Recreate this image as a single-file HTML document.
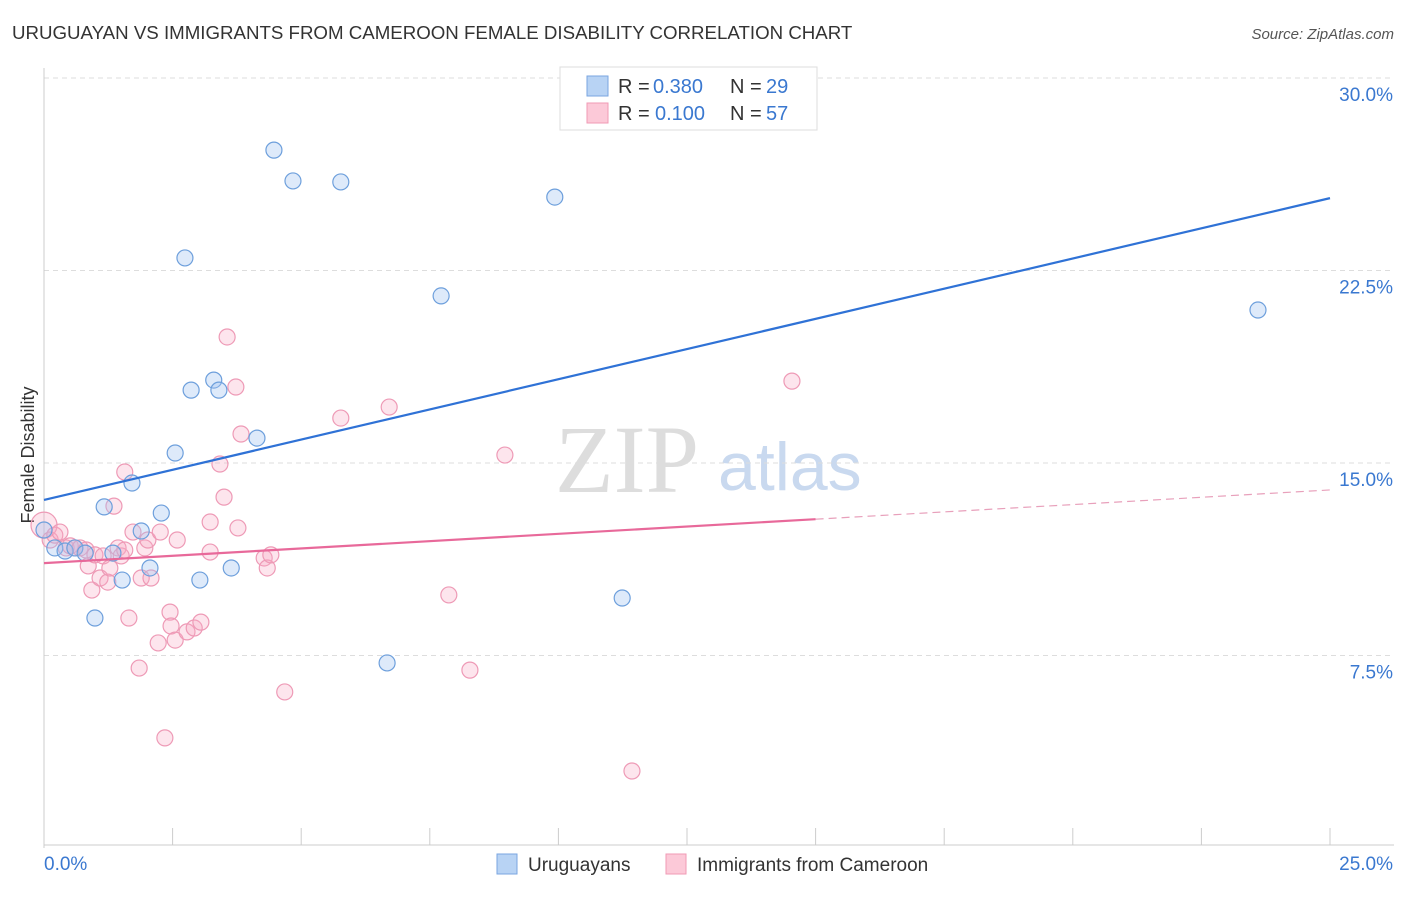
<!DOCTYPE html>
<html><head><meta charset="utf-8"><style>
body{margin:0;background:#fff;font-family:"Liberation Sans",sans-serif;}
#wrap{position:relative;width:1406px;height:892px;}
</style></head><body>
<div id="wrap">
<svg id="svg" width="1406" height="892">
<text x="12" y="39" font-size="18.7" fill="#333">URUGUAYAN VS IMMIGRANTS FROM CAMEROON FEMALE DISABILITY CORRELATION CHART</text>
<text x="1394" y="39" font-size="15" fill="#555" font-style="italic" text-anchor="end">Source: ZipAtlas.com</text>
<text x="34" y="455" font-size="18" fill="#333" transform="rotate(-90 34 455)" text-anchor="middle">Female Disability</text>
<text x="555" y="492" font-size="96" fill="#ddd" font-family="Liberation Serif">ZIP</text>
<text x="718" y="490" font-size="68" fill="#c9d9ef">atlas</text>
<g id="grid"></g><g id="axes"></g><g id="pts"></g><g id="lines"></g>
<g>
<rect x="560" y="67" width="257" height="63" fill="#fff" stroke="#ddd"/>
<rect x="587" y="76" width="21" height="20" fill="#b8d3f4" stroke="#7aa6e0"/>
<rect x="587" y="103" width="21" height="20" fill="#fcc9d8" stroke="#f09ab5"/>
<text x="618" y="93" font-size="20" fill="#333">R =</text>
<text x="653" y="93" font-size="20" fill="#3a78d0">0.380</text>
<text x="730" y="93" font-size="20" fill="#333">N =</text>
<text x="766" y="93" font-size="20" fill="#3a78d0">29</text>
<text x="618" y="120" font-size="20" fill="#333">R =</text>
<text x="655" y="120" font-size="20" fill="#3a78d0">0.100</text>
<text x="730" y="120" font-size="20" fill="#333">N =</text>
<text x="766" y="120" font-size="20" fill="#3a78d0">57</text>
</g>
<g>
<rect x="497" y="854" width="20" height="20" fill="#b8d3f4" stroke="#7aa6e0"/>
<text x="528" y="871" font-size="19" fill="#333">Uruguayans</text>
<rect x="666" y="854" width="20" height="20" fill="#fcc9d8" stroke="#f09ab5"/>
<text x="697" y="871" font-size="19" fill="#333">Immigrants from Cameroon</text>
</g>
</svg>
</div>
<script>
const yTicks=[7.5,15,22.5,30];
const yTickLabels=["7.5%","15.0%","22.5%","30.0%"];
const xTickLabels=["0.0%","25.0%"];
const blueX=[0,0.21,0.41,0.60,0.80,0.99,1.17,1.34,1.52,1.71,1.89,2.06,2.28,2.55,2.74,2.86,3.03,3.30,3.40,3.64,4.14,4.47,4.84,5.77,6.67,7.72,9.93,11.24,23.60];
const blueY=[12.39,11.69,11.57,11.69,11.49,8.96,13.29,11.49,10.44,14.22,12.35,10.91,13.05,15.39,22.99,17.84,10.44,18.23,17.84,10.91,15.97,27.19,25.99,25.95,7.21,21.51,25.36,9.74,20.96];
const pinkX=[0,0.12,0.21,0.31,0.43,0.51,0.60,0.70,0.82,0.86,0.93,0.99,1.09,1.15,1.24,1.28,1.36,1.44,1.50,1.57,1.57,1.65,1.73,1.85,1.89,1.96,2.02,2.08,2.22,2.26,2.35,2.45,2.47,2.55,2.59,2.78,2.92,3.05,3.23,3.23,3.42,3.50,3.56,3.73,3.77,3.83,4.28,4.34,4.41,4.68,5.77,6.71,7.87,8.28,8.96,11.43,14.54];
const pinkY=[12.58,12.0,12.19,12.31,11.69,11.77,11.69,11.69,11.61,10.99,10.05,11.42,10.52,11.38,10.36,10.91,13.32,11.69,11.38,14.65,11.61,8.96,12.31,7.01,10.52,11.69,12.0,10.52,7.99,12.31,4.29,9.19,8.65,8.10,12.0,8.42,8.57,8.80,11.53,12.70,14.96,13.67,19.91,17.96,12.47,16.13,11.30,10.91,11.42,6.08,16.75,17.18,9.86,6.93,15.31,3.0,18.19];
const blueLine=[13.56,25.32];
const pinkLine=[11.10,13.95];
const pinkSolidEnd=15;
const NS="http://www.w3.org/2000/svg";
const X=v=>44+v/25*1286, Y=v=>848-v*770/30;
function mk(t,a,p){const e=document.createElementNS(NS,t);for(const k in a)e.setAttribute(k,a[k]);p.appendChild(e);return e;}
const g=document.getElementById('grid'),ax=document.getElementById('axes'),pts=document.getElementById('pts'),ln=document.getElementById('lines');
yTicks.forEach((t,i)=>{
 const l=mk('line',{x1:44,x2:1394,y1:Y(t),y2:Y(t),stroke:'#ddd','stroke-dasharray':'5,4'},g);
 
 
 const tx=mk('text',{x:1393,y:Y(t)+23,'font-size':19,fill:'#3a78d0','text-anchor':'end'},ax);
 tx.textContent=yTickLabels[i];
 
 
});
mk('line',{x1:44,x2:44,y1:68,y2:848,stroke:'#ccc'},ax);
mk('line',{x1:44,x2:1394,y1:845,y2:845,stroke:'#ccc'},ax);
for(let i=0;i<=10;i++){mk('line',{x1:X(i*2.5),x2:X(i*2.5),y1:828,y2:845,stroke:'#ccc'},ax);}
const xl0=mk('text',{x:44,y:870,'font-size':19,fill:'#3a78d0'},ax);xl0.textContent=xTickLabels[0];


const xl1=mk('text',{x:1393,y:870,'font-size':19,fill:'#3a78d0','text-anchor':'end'},ax);xl1.textContent=xTickLabels[1];


pinkX.forEach((x,i)=>{const c=mk('circle',{cx:X(x),cy:Y(pinkY[i]),r:i==0?13:8,fill:'rgba(248,170,195,0.3)',stroke:'#ee9ab6','stroke-width':1.2},pts);
 
 });
blueX.forEach((x,i)=>{const c=mk('circle',{cx:X(x),cy:Y(blueY[i]),r:8,fill:'rgba(160,195,240,0.35)',stroke:'#6d9fdc','stroke-width':1.2},pts);
 
 });
const bl=mk('line',{x1:X(0),y1:Y(blueLine[0]),x2:X(25),y2:Y(blueLine[1]),stroke:'#2f72d6','stroke-width':2.2},ln);


const pm=pinkLine[0]+(pinkLine[1]-pinkLine[0])*pinkSolidEnd/25;
const pl=mk('line',{x1:X(0),y1:Y(pinkLine[0]),x2:X(pinkSolidEnd),y2:Y(pm),stroke:'#e8699a','stroke-width':2.2},ln);


const pd=mk('line',{x1:X(pinkSolidEnd),y1:Y(pm),x2:X(25),y2:Y(pinkLine[1]),stroke:'#e8a0bb','stroke-width':1.2,'stroke-dasharray':'8,5'},ln);


</script>
</body></html>
